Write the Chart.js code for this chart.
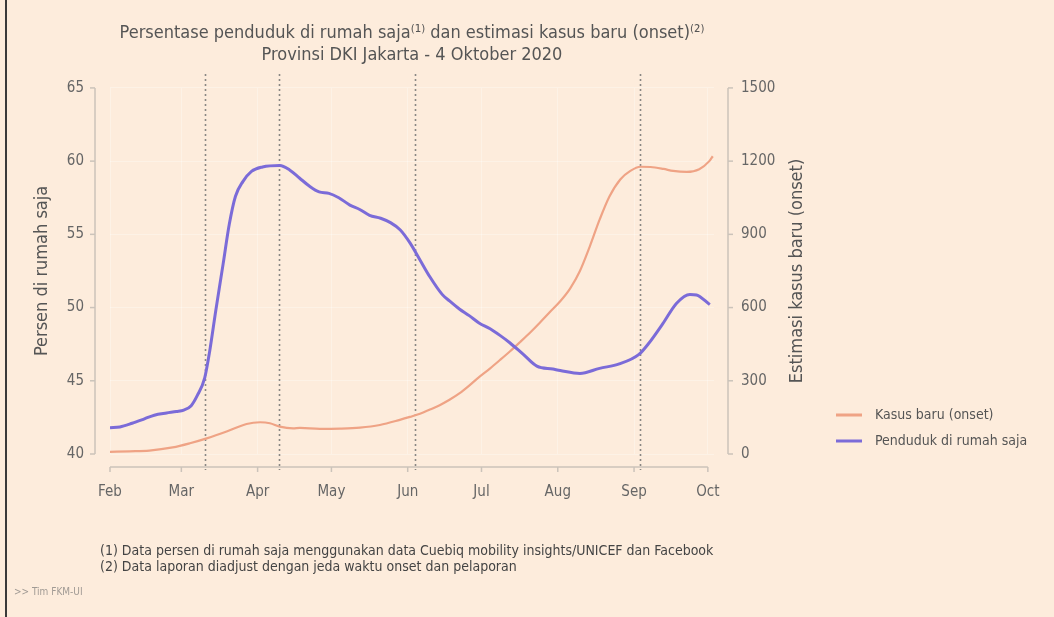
<!DOCTYPE html>
<html><head><meta charset="utf-8">
<script src="https://cdn.jsdelivr.net/npm/chart.js@4.4.1/dist/chart.umd.min.js"></script>
<style>
html,body{margin:0;padding:0;background:#fff;}
#wrap{position:relative;width:1054px;height:617px;background:#FDECDC;overflow:hidden;}
#wrap:before{content:'';position:absolute;left:5px;top:0;width:2px;height:617px;background:#3a3a3a;}
canvas{position:absolute;left:0;top:0;}
</style></head><body><div id="wrap"><canvas id="c" width="1054" height="617"></canvas></div>
<script>
// ---- data ----
const monthLabels = ['Feb','Mar','Apr','May','Jun','Jul','Aug','Sep','Oct'];
const monthDays = [0, 29, 60, 90, 121, 151, 182, 213, 243]; // days since 1 Feb 2020
const eventDays = [38.5, 68.5, 124, 215.5];
const leftTicks = [40, 45, 50, 55, 60, 65];
const rightTicks = [0, 300, 600, 900, 1200, 1500];

const stayDays = [0,4,9,14,18,23,27,30,33,35.5,38.5,40.5,43,46,48.5,51,54,57.5,62,69,73,77,81,85,89,93,97.5,101.5,105.5,110,114,118,122,126,130,135,138,142,146,150,154.5,158.5,162.5,168,173.5,180,183,191,199,207,215,219,224.7,230.3,235.7,238.4,243.8];
const stayValues = [41.8,41.85,42.1,42.4,42.65,42.8,42.9,43.0,43.3,44.0,45.2,47.0,49.8,53.0,55.7,57.6,58.6,59.3,59.6,59.7,59.4,58.85,58.3,57.9,57.8,57.5,57.0,56.7,56.3,56.1,55.8,55.3,54.4,53.25,52.1,50.9,50.45,49.9,49.45,48.95,48.55,48.1,47.6,46.8,46.0,45.8,45.7,45.5,45.85,46.15,46.8,47.56,48.9,50.3,50.9,50.86,50.2];

const caseDays = [0,8,16,25.5,32.5,39.3,47.4,55.5,61,65,69,74.4,77.2,85.3,93.5,101.6,109.7,117.8,121.9,126,130,134,138,142,146,150,154.4,158.5,162.5,166.6,170.7,174.7,178.8,182.9,187,191,195,199,203,207.4,211.5,215.6,219.7,225,228.9,234.4,239.5,243.6,245];
const caseValues = [9,11,14,27,44,64,92,123,130,126,112,105,107,103,104,108,119,140,152,165,182,200,222,248,280,315,350,385,420,458,497,538,582,625,678,750,850,960,1055,1125,1160,1177,1176,1168,1160,1156,1167,1200,1220];

const seriesNames = ['Kasus baru (onset)', 'Penduduk di rumah saja'];
const titleLines = ['Persentase penduduk di rumah saja\u207D\u00B9\u207E dan estimasi kasus baru (onset)\u207D\u00B2\u207E', 'Provinsi DKI Jakarta - 4 Oktober 2020'];
const leftTitle = 'Persen di rumah saja';
const rightTitle = 'Estimasi kasus baru (onset)';
const footnotes = ['(1) Data persen di rumah saja menggunakan data Cuebiq mobility insights/UNICEF dan Facebook', '(2) Data laporan diadjust dengan jeda waktu onset dan pelaporan'];
const credit = '>> Tim FKM-UI';

// ---- font pick ----
function hasFont(name){
  const c=document.createElement('canvas').getContext('2d');
  const t='abcdefghijklmnopqrstuvwxyzABCDEFG0123456789';
  c.font='40px monospace'; const a=c.measureText(t).width;
  c.font='40px "'+name+'", monospace'; return Math.abs(c.measureText(t).width-a)>0.5;
}
let FAMILY = 'Roboto';
if (hasFont('Liberation Sans Narrow')) FAMILY = '"Liberation Sans Narrow"';
else if (hasFont('DejaVu Sans Condensed')) FAMILY = '"DejaVu Sans Condensed"';
Chart.defaults.font.family = FAMILY;

const ORANGE = '#EFA385';
const PURPLE = '#7B6BD8';
const AXIS = '#cbc3ba';

const toPts = (xs, ys) => xs.map((x, i) => ({x: x, y: ys[i]}));

const decor = {
  id: 'decor',
  beforeDatasetsDraw(chart){
    const ctx = chart.ctx, xs = chart.scales.x, a = chart.chartArea;
    ctx.save();
    ctx.strokeStyle = '#8a8784'; ctx.lineWidth = 1.6; ctx.setLineDash([2,3]);
    eventDays.forEach(d => {
      const px = Math.round(xs.getPixelForValue(d)) + 0.5;
      ctx.beginPath(); ctx.moveTo(px, a.top - 14); ctx.lineTo(px, a.bottom + 16); ctx.stroke();
    });
    ctx.restore();
  },
  afterDraw(chart){
    const ctx = chart.ctx, a = chart.chartArea;
    const xs = chart.scales.x, yl = chart.scales.y, yr = chart.scales.y1;
    ctx.save();
    ctx.strokeStyle = AXIS; ctx.lineWidth = 1.5; ctx.setLineDash([]);
    // left axis
    const lx = a.left - 15;
    ctx.beginPath(); ctx.moveTo(lx, yl.getPixelForValue(65)); ctx.lineTo(lx, yl.getPixelForValue(40)); ctx.stroke();
    leftTicks.forEach(v => { const py = yl.getPixelForValue(v); ctx.beginPath(); ctx.moveTo(lx-5, py); ctx.lineTo(lx, py); ctx.stroke(); });
    // right axis
    const rx = a.right + 14;
    ctx.beginPath(); ctx.moveTo(rx, yr.getPixelForValue(1500)); ctx.lineTo(rx, yr.getPixelForValue(0)); ctx.stroke();
    rightTicks.forEach(v => { const py = yr.getPixelForValue(v); ctx.beginPath(); ctx.moveTo(rx, py); ctx.lineTo(rx+5, py); ctx.stroke(); });
    // x axis
    const by = a.bottom + 13;
    ctx.beginPath(); ctx.moveTo(xs.getPixelForValue(monthDays[0]), by); ctx.lineTo(xs.getPixelForValue(monthDays[monthDays.length-1]), by); ctx.stroke();
    monthDays.forEach(d => { const px = xs.getPixelForValue(d); ctx.beginPath(); ctx.moveTo(px, by); ctx.lineTo(px, by+5); ctx.stroke(); });

    // axis titles (both read bottom-to-top)
    ctx.fillStyle = '#555'; ctx.font = '18px ' + FAMILY; ctx.textAlign = 'center'; ctx.textBaseline = 'middle';
    const cy = (a.top + a.bottom) / 2;
    ctx.save(); ctx.translate(42, cy); ctx.rotate(-Math.PI/2); ctx.fillText(leftTitle, 0, 0); ctx.restore();
    ctx.save(); ctx.translate(a.right + 83, cy); ctx.rotate(-Math.PI/2); ctx.fillText(rightTitle, 0, 0); ctx.restore();

    // legend
    ctx.textAlign = 'left'; ctx.font = '14px ' + FAMILY; ctx.fillStyle = '#555';
    chart.data.datasets.forEach((ds, i) => {
      const ly = 415 + i * 26;
      ctx.strokeStyle = ds.borderColor; ctx.lineWidth = 3;
      ctx.beginPath(); ctx.moveTo(836, ly); ctx.lineTo(862, ly); ctx.stroke();
      ctx.fillText(ds.label, 875, ly);
    });

    // footnotes & credit
    ctx.font = '14px ' + FAMILY; ctx.fillStyle = '#444';
    footnotes.forEach((t, i) => ctx.fillText(t, 100, 551 + i * 16));
    ctx.font = '10px ' + FAMILY; ctx.fillStyle = '#a09a94';
    ctx.fillText(credit, 14, 592);
    ctx.restore();
  }
};

new Chart(document.getElementById('c'), {
  type: 'line',
  data: {
    datasets: [
      { label: seriesNames[0], data: toPts(caseDays, caseValues), yAxisID: 'y1', borderColor: ORANGE, borderWidth: 2.2, pointRadius: 0, cubicInterpolationMode: 'monotone', fill: false, order: 1 },
      { label: seriesNames[1], data: toPts(stayDays, stayValues), yAxisID: 'y', borderColor: PURPLE, borderWidth: 3, pointRadius: 0, cubicInterpolationMode: 'monotone', fill: false, order: 0 }
    ]
  },
  options: {
    responsive: false, animation: false, devicePixelRatio: 1,
    layout: { padding: { top: 22, left: 0, right: 0, bottom: 0 } },
    plugins: {
      legend: { display: false },
      tooltip: { enabled: false },
      title: {
        display: true, text: titleLines, fullSize: false, color: '#555',
        font: { size: 18, weight: 'normal', lineHeight: 1.22 },
        padding: { top: 0, bottom: 22 }
      }
    },
    scales: {
      x: {
        type: 'linear', min: 0, max: 245.5,
        afterBuildTicks: s => { s.ticks = monthDays.map(v => ({ value: v })); },
        afterFit: s => { s.height = 163; },
        ticks: { callback: v => monthLabels[monthDays.indexOf(v)], color: '#666', font: { size: 15 }, padding: 29, maxRotation: 0, autoSkip: false },
        grid: { display: true, drawOnChartArea: true, drawTicks: false, color: 'rgba(255,255,255,0.3)', lineWidth: 1 },
        border: { display: false }
      },
      y: {
        position: 'left', min: 40, max: 65,
        afterBuildTicks: s => { s.ticks = leftTicks.map(v => ({ value: v })); },
        afterFit: s => { s.width = 110; },
        ticks: { callback: v => String(v), color: '#666', font: { size: 15 }, padding: 26 },
        grid: { display: true, drawOnChartArea: true, drawTicks: false, color: 'rgba(255,255,255,0.3)', lineWidth: 1 },
        border: { display: false }
      },
      y1: {
        position: 'right', min: 0, max: 1500,
        afterBuildTicks: s => { s.ticks = rightTicks.map(v => ({ value: v })); },
        afterFit: s => { s.width = 340; },
        ticks: { callback: v => String(v), color: '#666', font: { size: 15 }, padding: 27 },
        grid: { display: true, drawOnChartArea: false, drawTicks: false },
        border: { display: false }
      }
    }
  },
  plugins: [decor]
});
</script></body></html>
